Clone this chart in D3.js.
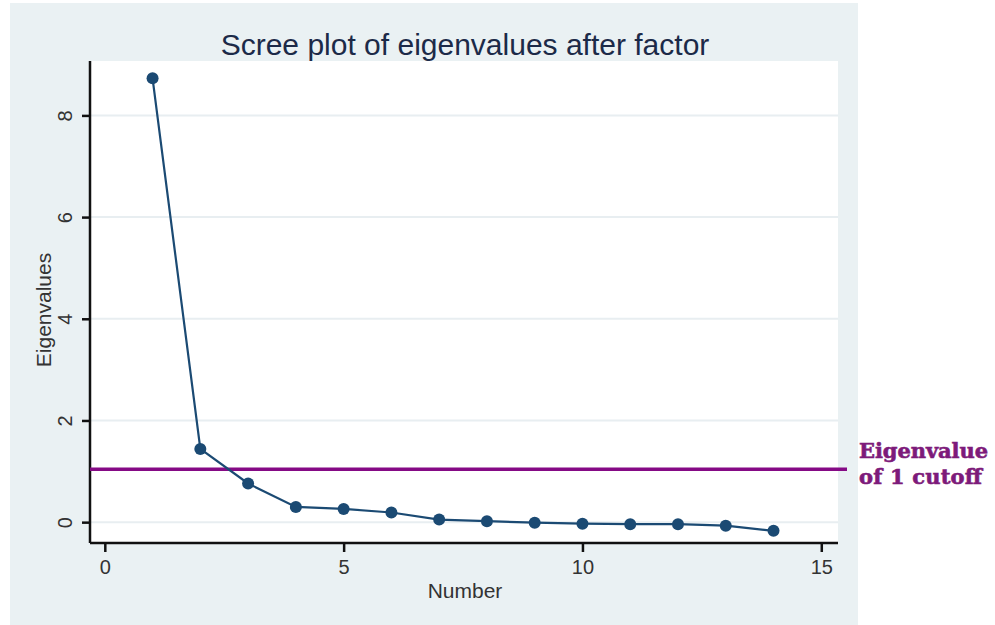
<!DOCTYPE html>
<html>
<head>
<meta charset="utf-8">
<script src="https://cdn.jsdelivr.net/npm/d3@7"></script>
<style>
  body { margin: 0; background: #fff; }
  text { font-family: "Liberation Sans", Arial, sans-serif; }
</style>
</head>
<body>
<div id="chart"></div>
<script>
// scree plot data
var factorNumber = [1, 2, 3, 4, 5, 6, 7, 8, 9, 10, 11, 12, 13, 14];
var eigenvalues = [8.73, 1.44, 0.76, 0.30, 0.26, 0.19, 0.05, 0.02, -0.01, -0.03, -0.04, -0.04, -0.07, -0.17];
var xTicks = [0, 5, 10, 15];
var yTicks = [0, 2, 4, 6, 8];
var cutoff = 1.04;
var cutoffLabel = ["Eigenvalue", "of 1 cutoff"];

var svg = d3.select("#chart")
    .append("svg")
    .attr("width", 995)
    .attr("height", 625);

// outer panel
svg.append("rect")
    .attr("x", 10).attr("y", 3)
    .attr("width", 848).attr("height", 622)
    .attr("fill", "#eaf1f3");

var plotL = 90, plotR = 838, plotT = 61, plotB = 543;

svg.append("rect")
    .attr("x", plotL).attr("y", plotT)
    .attr("width", plotR - plotL).attr("height", plotB - plotT)
    .attr("fill", "#ffffff");

var x = d3.scaleLinear().domain([-0.31, 15.35]).range([plotL, plotR]);
var y = d3.scaleLinear().domain([-0.41, 9.07]).range([plotB, plotT]);

// grid lines
svg.selectAll(".grid")
    .data(yTicks)
    .enter().append("line")
    .attr("x1", plotL).attr("x2", plotR)
    .attr("y1", d => y(d)).attr("y2", d => y(d))
    .attr("stroke", "#e8eef1")
    .attr("stroke-width", 2);

// axes
var xAxis = svg.append("g")
    .attr("transform", "translate(0," + plotB + ")")
    .call(d3.axisBottom(x).tickValues(xTicks).tickSize(9).tickPadding(8).tickSizeOuter(0));
xAxis.select(".domain").attr("stroke", "#111").attr("stroke-width", 2.5)
    .attr("d", "M" + plotL + ",0H" + plotR);
xAxis.selectAll(".tick line").attr("stroke", "#111").attr("stroke-width", 2.5);
xAxis.selectAll(".tick text")
    .attr("font-size", 20).attr("fill", "#333")
    .style("font-family", "Liberation Sans, Arial, sans-serif");

var yAxis = svg.append("g")
    .attr("transform", "translate(" + plotL + ",0)")
    .call(d3.axisLeft(y).tickValues(yTicks).tickSize(8).tickSizeOuter(0));
yAxis.select(".domain").attr("stroke", "#111").attr("stroke-width", 2.5)
    .attr("d", "M0," + plotT + "V" + plotB);
yAxis.selectAll(".tick line").attr("stroke", "#111").attr("stroke-width", 2.5);
yAxis.selectAll(".tick text")
    .attr("font-size", 20).attr("fill", "#333")
    .attr("x", 0).attr("dy", 0)
    .attr("text-anchor", "middle")
    .attr("transform", "translate(-18,0) rotate(-90)")
    .style("font-family", "Liberation Sans, Arial, sans-serif");

// cutoff line
svg.append("line")
    .attr("x1", plotL).attr("x2", 847)
    .attr("y1", y(cutoff)).attr("y2", y(cutoff))
    .attr("stroke", "#850a85")
    .attr("stroke-width", 3.5);

// scree line and points
var pts = factorNumber.map((n, i) => ({ n: n, v: eigenvalues[i] }));
var line = d3.line().x(d => x(d.n)).y(d => y(d.v));

svg.append("path")
    .datum(pts)
    .attr("d", line)
    .attr("fill", "none")
    .attr("stroke", "#1b4a73")
    .attr("stroke-width", 2.2);

svg.selectAll(".pt")
    .data(pts)
    .enter().append("circle")
    .attr("cx", d => x(d.n))
    .attr("cy", d => y(d.v))
    .attr("r", 6)
    .attr("fill", "#1b4a73");

// titles
svg.append("text")
    .attr("x", 465).attr("y", 55)
    .attr("text-anchor", "middle")
    .attr("font-size", 30)
    .attr("fill", "#1c2a48")
    .text("Scree plot of eigenvalues after factor");

svg.append("text")
    .attr("x", 465).attr("y", 598)
    .attr("text-anchor", "middle")
    .attr("font-size", 21)
    .attr("fill", "#333")
    .text("Number");

svg.append("text")
    .attr("transform", "translate(51,310) rotate(-90)")
    .attr("text-anchor", "middle")
    .attr("font-size", 21)
    .attr("fill", "#333")
    .text("Eigenvalues");

// annotation
svg.selectAll(".note")
    .data(cutoffLabel)
    .enter().append("text")
    .attr("x", 859)
    .attr("y", (d, i) => 458 + i * 26)
    .attr("font-size", 21)
    .attr("font-weight", "bold")
    .attr("fill", "#7d1a7a")
    .attr("stroke", "#7d1a7a")
    .attr("stroke-width", 0.6)
    .attr("textLength", (d, i) => i == 0 ? 129 : 123)
    .style("font-family", "DejaVu Serif, serif")
    .text(d => d);
</script>
</body>
</html>
